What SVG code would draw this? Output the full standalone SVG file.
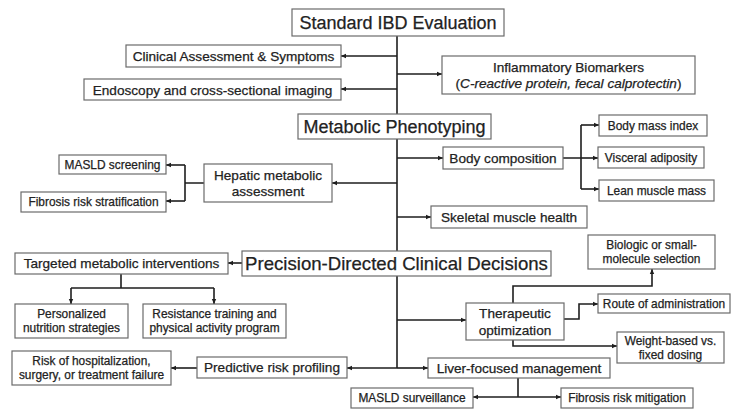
<svg xmlns="http://www.w3.org/2000/svg" width="745" height="418" viewBox="0 0 745 418">
<style>
.b{fill:#fff;stroke:#6b6b6b;stroke-width:1.2}
.t{font-family:"Liberation Sans",Arial,sans-serif;fill:#222;stroke:#222;stroke-width:0.25;text-anchor:middle}
.s{font-size:13.6px}
.xs{font-size:11.9px}
.L{font-size:18px}
.P{font-size:18.6px}
.c{fill:none;stroke:#1e1e1e;stroke-width:1.6}
.a{marker-end:url(#ah)}
</style>
<defs>
<marker id="ah" markerUnits="userSpaceOnUse" markerWidth="6" markerHeight="6" refX="5" refY="3" orient="auto"><path d="M0,0.8 L5,3 L0,5.2 z" fill="#1e1e1e"/></marker>
</defs>
<g id="connectors">
<path class="c" d="M397,36 V368"/>
<path class="c a" d="M397,56 H341"/>
<path class="c a" d="M397,89 H341"/>
<path class="c a" d="M397,74 H442"/>
<path class="c a" d="M397,183 H332"/>
<path class="c a" d="M397,158 H443"/>
<path class="c a" d="M397,217 H431"/>
<path class="c a" d="M242,263 H228"/>
<path class="c a" d="M397,320 H466"/>
<path class="c a" d="M397,368 H347"/>
<path class="c a" d="M397,368 H428"/>
<path class="c" d="M204,183 H185 M185,165 V201"/>
<path class="c a" d="M185,165 H166"/>
<path class="c a" d="M185,201 H166"/>
<path class="c" d="M563,158 H581 M581,125 V189"/>
<path class="c a" d="M581,125 H599"/>
<path class="c a" d="M581,158 H598"/>
<path class="c a" d="M581,189 H599"/>
<path class="c" d="M121,274 V288 M71,288 H214"/>
<path class="c a" d="M71,288 V304"/>
<path class="c a" d="M214,288 V304"/>
<path class="c a" d="M513,303 V286 H652 V269"/>
<path class="c a" d="M564,319 H579 V304 H598"/>
<path class="c a" d="M513,340 V346 H617"/>
<path class="c a" d="M197,368 H171"/>
<path class="c" d="M518,378 V397"/>
<path class="c a" d="M518,397 H473"/>
<path class="c a" d="M518,397 H561"/>
</g>
<g id="n-standard"><rect class="b" x="292" y="9" width="212" height="27"/><text class="t L" x="398" y="28.5">Standard IBD Evaluation</text></g>
<g id="n-clinical"><rect class="b" x="126" y="45" width="215" height="22"/><text class="t s" x="233.5" y="60.8">Clinical Assessment &amp; Symptoms</text></g>
<g id="n-endoscopy"><rect class="b" x="84" y="79" width="257" height="21"/><text class="t s" x="212.5" y="94.5">Endoscopy and cross-sectional imaging</text></g>
<g id="n-inflammatory"><rect class="b" x="442" y="56" width="253" height="38"/><text class="t s" x="568.5" y="71.5">Inflammatory Biomarkers</text><text class="t s" x="568.5" y="88">(<tspan font-style="italic">C-reactive protein, fecal calprotectin</tspan>)</text></g>
<g id="n-metabolic"><rect class="b" x="298" y="114" width="193" height="25"/><text class="t L" x="394.5" y="132.8">Metabolic Phenotyping</text></g>
<g id="n-hepatic"><rect class="b" x="204" y="164" width="128" height="38"/><text class="t s" x="268" y="179.5">Hepatic metabolic</text><text class="t s" x="268" y="196">assessment</text></g>
<g id="n-masld-screen"><rect class="b" x="59" y="155" width="107" height="19"/><text class="t xs" x="112.5" y="168.7">MASLD screening</text></g>
<g id="n-fibrosis-strat"><rect class="b" x="21" y="192" width="145" height="20"/><text class="t xs" x="93.5" y="206.3">Fibrosis risk stratification</text></g>
<g id="n-bodycomp"><rect class="b" x="443" y="147" width="120" height="22"/><text class="t s" x="503" y="162.8">Body composition</text></g>
<g id="n-bmi"><rect class="b" x="599" y="115" width="108" height="21"/><text class="t xs" x="653" y="129.7">Body mass index</text></g>
<g id="n-visceral"><rect class="b" x="598" y="147" width="106" height="21"/><text class="t xs" x="651" y="161.7">Visceral adiposity</text></g>
<g id="n-lean"><rect class="b" x="599" y="180" width="115" height="21"/><text class="t xs" x="656.5" y="194.7">Lean muscle mass</text></g>
<g id="n-skeletal"><rect class="b" x="431" y="206" width="156" height="22"/><text class="t s" x="509" y="221.8">Skeletal muscle health</text></g>
<g id="n-precision"><rect class="b" x="242" y="251" width="309" height="25"/><text class="t P" x="396.5" y="270.2">Precision-Directed Clinical Decisions</text></g>
<g id="n-targeted"><rect class="b" x="15" y="253" width="213" height="21"/><text class="t s" x="121.5" y="268.3">Targeted metabolic interventions</text></g>
<g id="n-personalized"><rect class="b" x="15" y="304" width="113" height="34"/><text class="t xs" x="71.5" y="318">Personalized</text><text class="t xs" x="71.5" y="332.3">nutrition strategies</text></g>
<g id="n-resistance"><rect class="b" x="143" y="304" width="143" height="34"/><text class="t xs" x="214.5" y="318">Resistance training and</text><text class="t xs" x="214.5" y="332.3">physical activity program</text></g>
<g id="n-biologic"><rect class="b" x="588" y="235" width="127" height="34"/><text class="t xs" x="651.5" y="249">Biologic or small-</text><text class="t xs" x="651.5" y="263.3">molecule selection</text></g>
<g id="n-route"><rect class="b" x="598" y="294" width="132" height="19"/><text class="t xs" x="664" y="307.7">Route of administration</text></g>
<g id="n-therapeutic"><rect class="b" x="466" y="303" width="98" height="37"/><text class="t s" x="515" y="318">Therapeutic</text><text class="t s" x="515" y="334.5">optimization</text></g>
<g id="n-weight"><rect class="b" x="617" y="332" width="107" height="31"/><text class="t xs" x="670.5" y="345">Weight-based vs.</text><text class="t xs" x="670.5" y="358.7">fixed dosing</text></g>
<g id="n-predictive"><rect class="b" x="197" y="357" width="150" height="21"/><text class="t s" x="272" y="372.3">Predictive risk profiling</text></g>
<g id="n-risk"><rect class="b" x="12" y="351" width="159" height="34"/><text class="t xs" x="91.5" y="365">Risk of hospitalization,</text><text class="t xs" x="91.5" y="379.3">surgery, or treatment failure</text></g>
<g id="n-liver"><rect class="b" x="428" y="358" width="182" height="20"/><text class="t s" x="519" y="372.8">Liver-focused management</text></g>
<g id="n-masld-surv"><rect class="b" x="351" y="388" width="122" height="20"/><text class="t xs" x="412" y="402.3">MASLD surveillance</text></g>
<g id="n-fibrosis-mit"><rect class="b" x="561" y="388" width="132" height="20"/><text class="t xs" x="627" y="402.3">Fibrosis risk mitigation</text></g>
</svg>
